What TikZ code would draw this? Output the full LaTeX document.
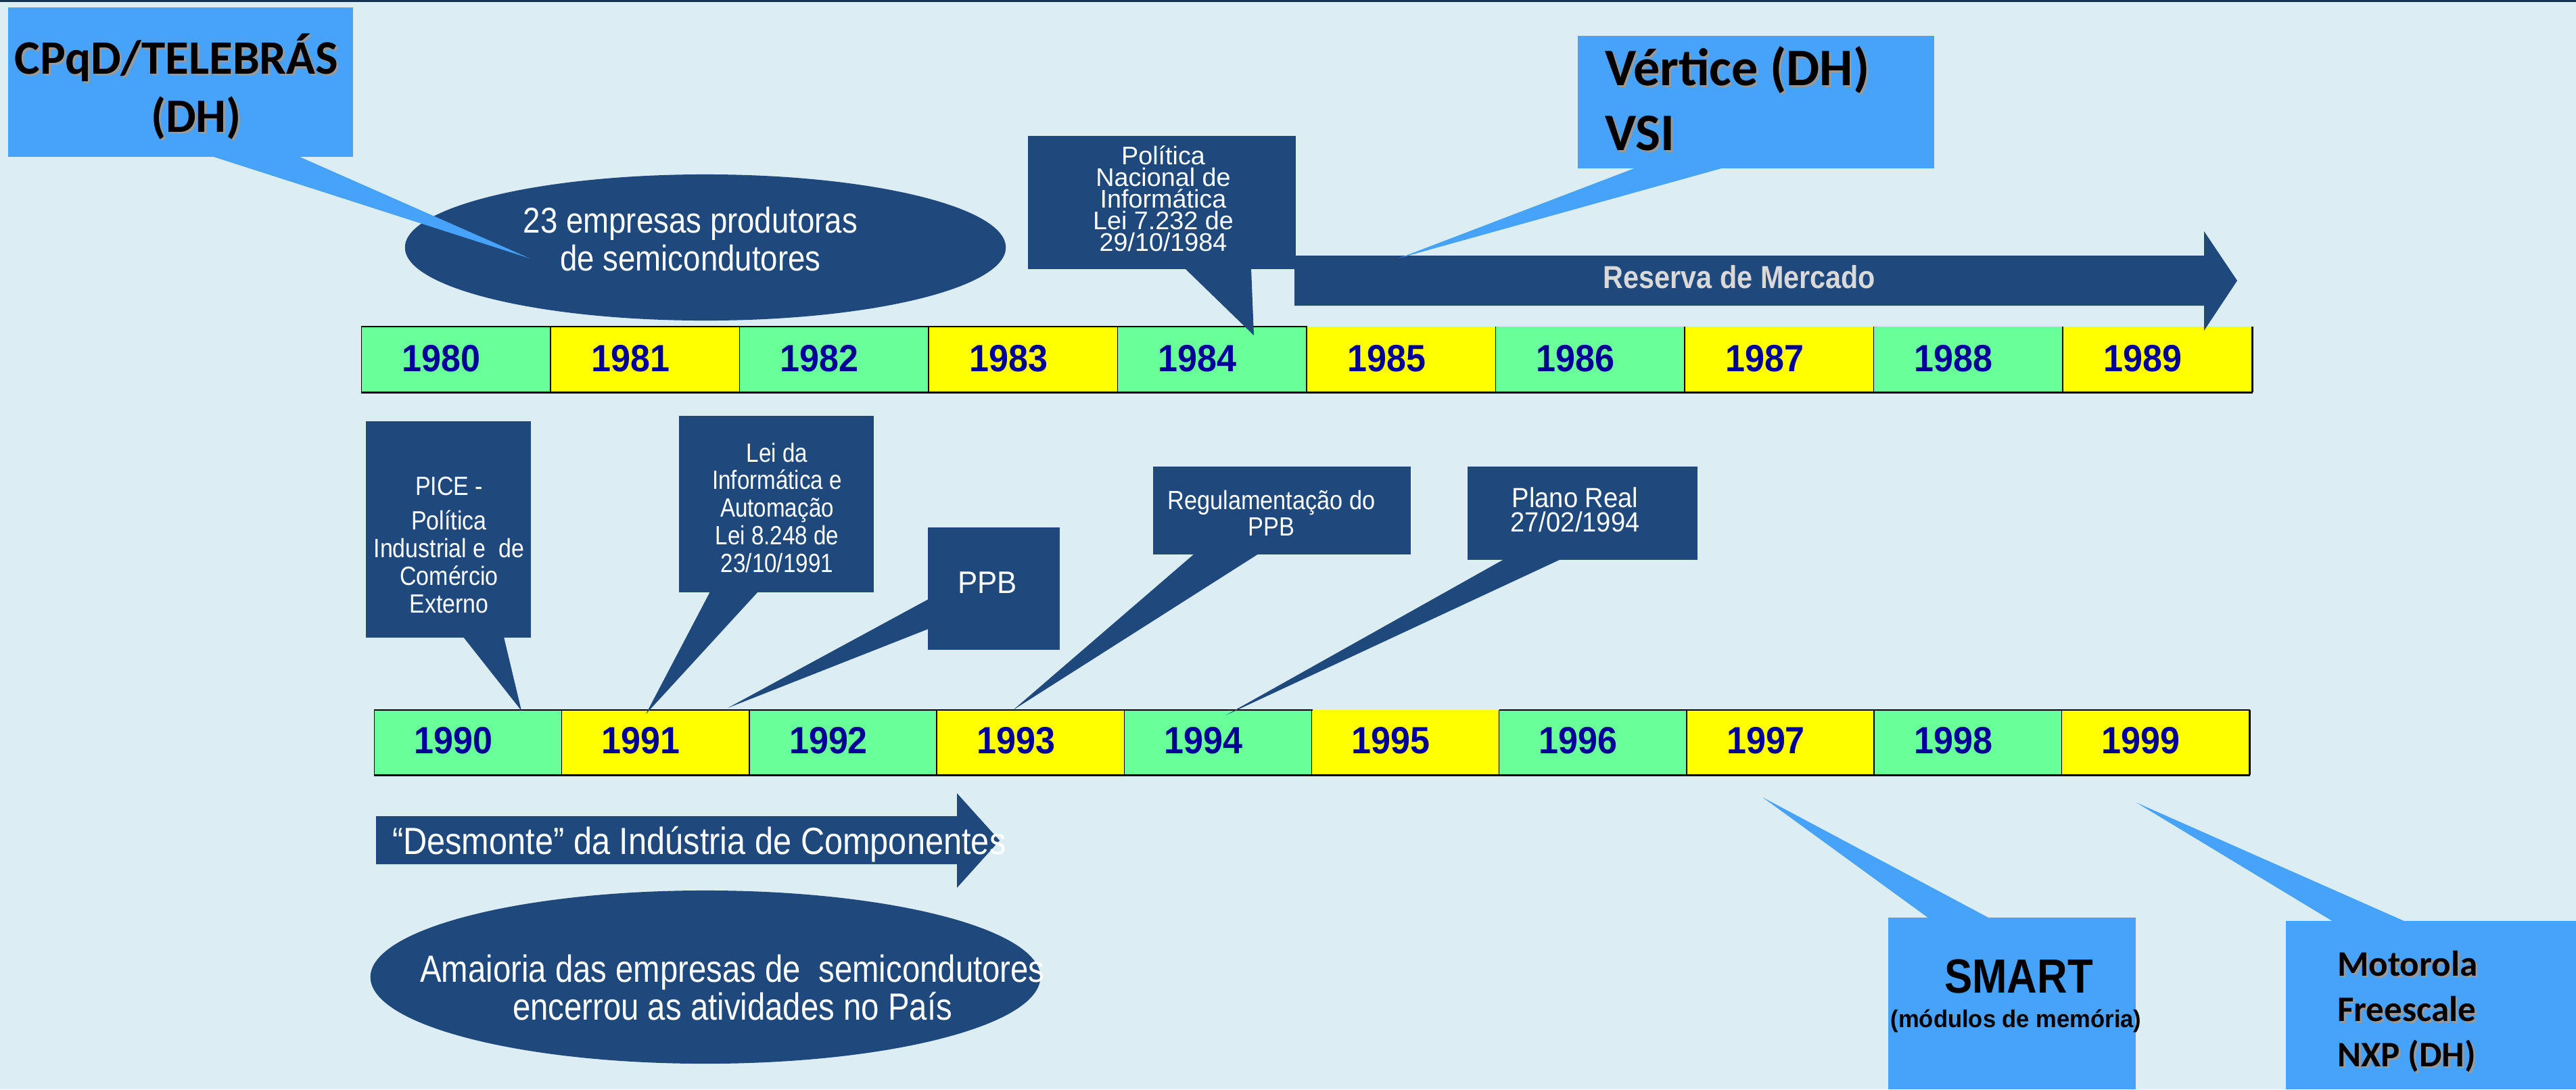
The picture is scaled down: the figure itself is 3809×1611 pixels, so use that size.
\documentclass[tikz,border=0pt]{standalone}
\usepackage{fontspec}
\setmainfont{Liberation Sans}
\newfontfamily\calfont{Carlito}
\usetikzlibrary{shapes.geometric}
\definecolor{bg}{RGB}{220,238,243}
\definecolor{navy}{RGB}{31,73,125}
\definecolor{lblue}{RGB}{71,163,250}
\definecolor{tg}{RGB}{105,255,153}
\definecolor{ty}{RGB}{255,255,0}
\definecolor{yrblue}{RGB}{0,0,153}
\definecolor{topline}{RGB}{23,50,80}
\definecolor{resgray}{RGB}{217,217,217}
% centred multi-line block: squeeze, baselineskip, lines
\newcommand\ml[3]{\scalebox{#1}[1]{\vtop{\baselineskip=#2\lineskiplimit=-\maxdimen\lineskip=0pt\halign{\hfil##\hfil\cr#3\crcr}}}}
% left-aligned multi-line block
\newcommand\mll[2]{\vtop{\baselineskip=#1\lineskiplimit=-\maxdimen\lineskip=0pt\halign{##\hfil\cr#2\crcr}}}
% text with drop shadow
\newcommand\shnode[5]{%
  \node[inner sep=0, outer sep=0, text=black!40, anchor=#2] at (#3+3,#4+3) {#5};
  \node[inner sep=0, outer sep=0, text=black, anchor=#2] (#1) at (#3,#4) {#5};}
\tikzset{
  dbox/.style={fill=navy, draw=none, inner sep=0, outer sep=0, anchor=north west},
  lbox/.style={fill=lblue, draw=none, inner sep=0, outer sep=0, anchor=north west},
  wt/.style={text=white, inner sep=0, outer sep=0},
  cell/.style={inner sep=0, outer sep=0, draw=none},
  yrt/.style={text=yrblue, font=\bfseries\fontsize{15.93}{18}\selectfont, inner sep=0, outer sep=0},
  tlthin/.style={line width=0.4pt, draw=black},
  tlthick/.style={line width=0.85pt, draw=black},
}
\begin{document}
\begin{tikzpicture}[x=0.01cm,y=-0.01cm]
\useasboundingbox (0,0) rectangle (3809,1611);
\fill[bg] (0,0) rectangle (3809,1611);
\fill[topline] (0,0) rectangle (3809,2.5);

% ---------- 23 empresas ellipse ----------
\node[ellipse, fill=navy, inner sep=0, outer sep=0, minimum width=8.88cm, minimum height=2.16cm] (e23) at (1043,366) {};
\node[wt, anchor=base, font=\fontsize{15.08}{16}\selectfont] (e23t) at (1021,344)
  {\ml{0.86}{15.93pt}{23 empresas produtoras\cr de semicondutores}};

% ---------- CPqD callout ----------
\node[lbox, minimum width=5.10cm, minimum height=2.21cm] (cpqd) at (12,11) {};
\coordinate (cpqdtip) at (783,382);
\fill[lblue] (313,231) -- (441,231) -- (cpqdtip) -- cycle;
\shnode{cpqdt1}{base}{261}{109}{\calfont\bfseries\fontsize{20.2}{24}\selectfont CPqD/TELEBRÁS}
\shnode{cpqdt2}{base}{290}{195}{\calfont\bfseries\fontsize{20.2}{24}\selectfont (DH)}

% ---------- Timeline 1980s ----------
\foreach \i/\c in {0/tg,1/ty,2/tg,3/ty,4/tg,5/ty,6/tg,7/ty,8/tg,9/ty} {
  \pgfmathtruncatemacro\yr{1980+\i}
  \node[cell, fill=\c, minimum width=2.805cm, minimum height=0.97cm] (c\yr) at ({535+279.5*\i+139.75},531.5) {};
  \node[yrt, anchor=base] (t\yr) at ({535+279.5*\i+117.75},549) {\scalebox{0.93}[1]{\yr}};
}
\draw[tlthin] (c1980.north west) -- (c1984.north east);
\foreach \y in {1980,...,1989} \draw[tlthin] (c\y.north west) -- (c\y.south west);
\draw[tlthick] (c1989.north east) -- (c1989.south east);
\draw[tlthick] (c1980.south west) -- (c1989.south east);

% ---------- Politica Nacional callout ----------
\node[dbox, minimum width=3.96cm, minimum height=1.97cm] (pol) at (1520,201) {};
\coordinate (poltip) at (1854,496);
\fill[navy] (1752,397) -- (1850,397) -- (poltip) -- cycle;
\node[wt, anchor=base, font=\fontsize{10.73}{11}\selectfont] (polt) at (1720,243)
  {\ml{1}{9.16pt}{Política\cr Nacional de\cr Informática\cr Lei 7.232 de\cr 29/10/1984}};

% ---------- Reserva de Mercado arrow ----------
\fill[navy] (1914,378) -- (3259,378) -- (3259,342) -- (3308,415) -- (3259,489) -- (3259,452) -- (1914,452) -- cycle;
\node[anchor=base, inner sep=0, text=resgray, font=\bfseries\fontsize{13.37}{15}\selectfont] (rest) at (2572,426)
  {\scalebox{0.88}[1]{Reserva de Mercado}};

% ---------- Vertice callout ----------
\node[lbox, minimum width=5.27cm, minimum height=1.96cm] (vert) at (2333,53) {};
\coordinate (verttip) at (2068,382);
\fill[lblue] (2419,248) -- (2549,248) -- (verttip) -- cycle;
\shnode{vertt1}{base west}{2373}{126}{\calfont\bfseries\fontsize{22.2}{26}\selectfont Vértice (DH)}
\shnode{vertt2}{base west}{2373}{222}{\calfont\bfseries\fontsize{22.2}{26}\selectfont VSI}

% ---------- Timeline 1990s ----------
\foreach \i/\c in {0/tg,1/ty,2/tg,3/ty,4/tg,5/ty,6/tg,7/ty,8/tg,9/ty} {
  \pgfmathtruncatemacro\yr{1990+\i}
  \node[cell, fill=\c, minimum width=2.782cm, minimum height=0.96cm] (c\yr) at ({554+277.2*\i+138.6},1098) {};
  \node[yrt, anchor=base] (t\yr) at ({554+277.2*\i+116.6},1114) {\scalebox{0.93}[1]{\yr}};
}
\draw[tlthin] (c1990.north west) -- (c1994.north east);
\draw[tlthin] (c1996.north west) -- (c1999.north east);
\foreach \y in {1990,...,1999} \draw[tlthin] (c\y.north west) -- (c\y.south west);
\draw[tlthick] (c1999.north east) -- (c1999.south east);
\draw[tlthick] (c1990.south west) -- (c1999.south east);

% ---------- PICE callout ----------
\node[dbox, minimum width=2.44cm, minimum height=3.20cm] (pice) at (541,623) {};
\coordinate (picetip) at (771,1051);
\fill[navy] (685,942) -- (745,942) -- (picetip) -- cycle;
\node[wt, anchor=base, font=\fontsize{11.1}{12}\selectfont] (picet) at (664,732)
  {\ml{0.87}{11.67pt}{PICE -\cr\noalign{\vskip2.85pt} Política\cr Industrial e\ \ de\cr Comércio\cr Externo}};

% ---------- Lei da Informatica callout ----------
\node[dbox, minimum width=2.88cm, minimum height=2.61cm] (lei) at (1004,615) {};
\coordinate (leitip) at (955,1056);
\fill[navy] (1050,875) -- (1121,875) -- (leitip) -- cycle;
\node[wt, anchor=base, font=\fontsize{11.1}{12}\selectfont] (leit) at (1149,683)
  {\ml{0.85}{11.6pt}{Lei da\cr Informática e\cr Automação\cr Lei 8.248 de\cr 23/10/1991}};

% ---------- PPB callout ----------
\node[dbox, minimum width=1.95cm, minimum height=1.81cm] (ppb) at (1372,780) {};
\coordinate (ppbtip) at (1076,1047);
\fill[navy] (1373,886) -- (1373,930) -- (ppbtip) -- cycle;
\node[wt, anchor=base, font=\fontsize{13.1}{14}\selectfont] (ppbt) at (1460,877) {\scalebox{0.95}[1]{PPB}};

% ---------- Regulamentacao callout ----------
\node[dbox, minimum width=3.81cm, minimum height=1.30cm] (reg) at (1705,690) {};
\coordinate (regtip) at (1498,1050);
\fill[navy] (1766,819) -- (1861,819) -- (regtip) -- cycle;
\node[wt, anchor=base, font=\fontsize{11.1}{12}\selectfont] (regt) at (1880,753)
  {\ml{0.88}{11.1pt}{Regulamentação do\cr PPB}};

% ---------- Plano Real callout ----------
\node[dbox, minimum width=3.40cm, minimum height=1.38cm] (real) at (2170,690) {};
\coordinate (realtip) at (1812,1058);
\fill[navy] (2224,827) -- (2308,827) -- (realtip) -- cycle;
\node[wt, anchor=base, font=\fontsize{11.67}{12}\selectfont] (realt) at (2329,750)
  {\ml{0.93}{10.24pt}{Plano Real\cr 27/02/1994}};

% ---------- Desmonte arrow ----------
\fill[navy] (556,1207) -- (1415,1207) -- (1415,1173) -- (1478,1243) -- (1415,1313) -- (1415,1278) -- (556,1278) -- cycle;
\node[wt, anchor=base west, font=\fontsize{15.93}{17}\selectfont] (desm) at (580,1263)
  {\scalebox{0.87}[1]{“Desmonte” da Indústria de Componentes}};

% ---------- Amaioria ellipse ----------
\node[ellipse, fill=navy, inner sep=0, outer sep=0, minimum width=9.90cm, minimum height=2.56cm] (emaior) at (1043,1445) {};
\node[wt, anchor=base, font=\fontsize{15.93}{17}\selectfont] (emaiort) at (1083,1452)
  {\ml{0.845}{15.93pt}{Amaioria das empresas de\ \ semicondutores\cr encerrou as atividades no País}};

% ---------- SMART callout ----------
\node[lbox, minimum width=3.66cm, minimum height=2.54cm] (smart) at (2792,1357) {};
\coordinate (smarttip) at (2606,1179);
\fill[lblue] (2852,1358) -- (2942,1358) -- (smarttip) -- cycle;
\node[anchor=base, inner sep=0, font=\bfseries\fontsize{20.2}{22}\selectfont] (smartt1) at (2985,1468) {\scalebox{0.87}[1]{SMART}};
\node[anchor=base, inner sep=0, font=\bfseries\fontsize{10.24}{12}\selectfont] (smartt2) at (2981,1519) {\scalebox{0.96}[1]{(módulos de memória)}};

% ---------- Motorola callout ----------
\node[lbox, minimum width=4.29cm, minimum height=2.49cm] (moto) at (3380,1362) {};
\coordinate (mototip) at (3159,1187);
\fill[lblue] (3450,1363) -- (3557,1363) -- (mototip) -- cycle;
\shnode{motot}{base west}{3456}{1443}{\calfont\bfseries\fontsize{15.1}{17}\selectfont\mll{19.06pt}{Motorola\cr Freescale\cr NXP (DH)}}
\end{tikzpicture}
\end{document}
